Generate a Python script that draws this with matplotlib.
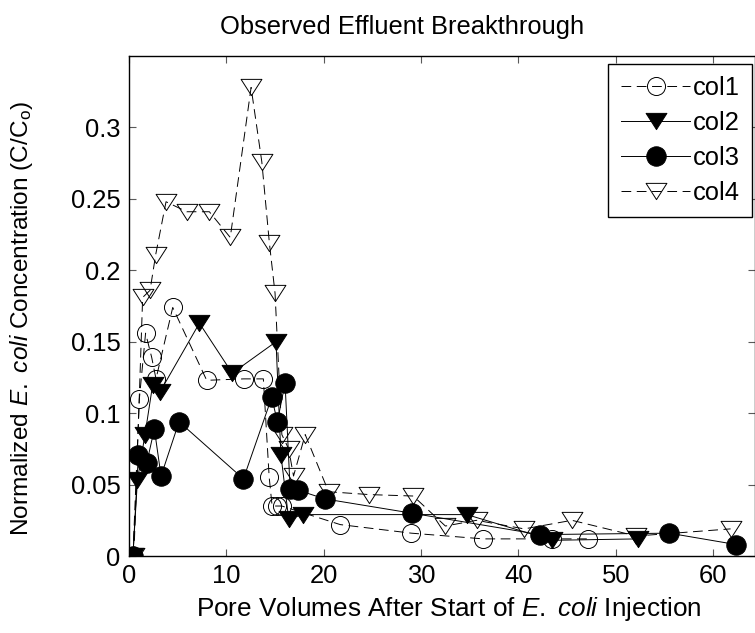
import matplotlib
matplotlib.use("Agg")
import matplotlib.pyplot as plt
import numpy as np
from matplotlib.path import Path

plt.rcParams["font.family"] = ["Liberation Sans", "DejaVu Sans"]
plt.rcParams["mathtext.fontset"] = "custom"
plt.rcParams["mathtext.rm"] = "Liberation Sans"
plt.rcParams["mathtext.it"] = "Liberation Sans:italic"
plt.rcParams["lines.scale_dashes"] = False

# pore volumes / normalized concentration for each column
col1_x = [0.4, 1.06, 1.7, 2.33, 2.77, 4.49, 7.98, 11.8, 13.8, 14.4, 14.7, 15.2, 15.7, 21.7, 29.0, 36.4, 43.5, 47.2]
col1_y = [0.0, 0.110, 0.156, 0.139, 0.124, 0.174, 0.123, 0.124, 0.124, 0.055, 0.035, 0.035, 0.035, 0.022, 0.016, 0.012, 0.012, 0.012]

col2_x = [0.4, 0.86, 1.64, 2.43, 3.19, 7.23, 10.6, 15.1, 15.6, 16.4, 17.9, 34.7, 43.5, 52.3]
col2_y = [0.0, 0.053, 0.085, 0.120, 0.115, 0.163, 0.128, 0.150, 0.071, 0.026, 0.029, 0.029, 0.011, 0.012]

col3_x = [0.4, 0.96, 1.82, 2.6, 3.29, 5.14, 11.75, 14.66, 15.24, 16.03, 16.55, 17.4, 20.1, 29.05, 42.2, 55.5, 62.4]
col3_y = [0.0, 0.071, 0.065, 0.089, 0.056, 0.094, 0.054, 0.111, 0.094, 0.121, 0.047, 0.046, 0.040, 0.030, 0.015, 0.016, 0.008]

col4_x = [0.5, 1.4, 2.16, 2.74, 3.8, 5.93, 8.25, 10.4, 12.54, 13.64, 14.42, 15.0, 15.7, 16.4, 16.9, 18.1, 20.5,
          24.7, 29.2, 32.5, 35.7, 40.6, 45.5, 52.1, 61.8]
col4_y = [0.0, 0.181, 0.186, 0.211, 0.248, 0.241, 0.241, 0.223, 0.328, 0.276, 0.219, 0.184, 0.085, 0.075, 0.056,
          0.085, 0.045, 0.043, 0.042, 0.021, 0.025, 0.019, 0.025, 0.014, 0.019]

labels = ["col1", "col2", "col3", "col4"]

# flattened down-pointing triangle
tri = Path([(-1.0, 0.78), (1.0, 0.78), (0.0, -0.78), (-1.0, 0.78)],
           [Path.MOVETO, Path.LINETO, Path.LINETO, Path.CLOSEPOLY])

fig = plt.figure(figsize=(7.55, 6.33), dpi=100)
ax = fig.add_axes([0.1709, 0.1216, 0.829, 0.7899])

dash = (0, (7, 4))
ax.plot(col1_x, col1_y, color="k", lw=0.7, ls=dash, marker="o", ms=13,
        mfc="none", mec="k", mew=0.7, label=labels[0])
ax.plot(col2_x, col2_y, color="k", lw=0.7, ls="-", marker=tri, ms=15,
        mfc="k", mec="k", mew=0.7, label=labels[1])
ax.plot(col3_x, col3_y, color="k", lw=0.7, ls="-", marker="o", ms=14,
        mfc="k", mec="k", mew=0.7, label=labels[2])
ax.plot(col4_x, col4_y, color="k", lw=0.7, ls=dash, marker=tri, ms=15,
        mfc="none", mec="k", mew=0.7, label=labels[3])

ax.set_xlim(0, 64.3)
ax.set_ylim(0, 0.35)
ax.set_xticks([0, 10, 20, 30, 40, 50, 60])
ax.set_yticks([0, 0.05, 0.1, 0.15, 0.2, 0.25, 0.3])
ax.set_yticklabels(["0", "0.05", "0.1", "0.15", "0.2", "0.25", "0.3"])
ax.tick_params(direction="in", length=5, width=0.8, color="0.35",
               top=True, right=True, labelsize=18.4, pad=6)
for s in ax.spines.values():
    s.set_linewidth(1.0)

ax.legend(loc="upper right", bbox_to_anchor=(1.0, 0.99), fontsize=18.4,
          numpoints=1, handlelength=2.7, handletextpad=0.1, labelspacing=0.42,
          borderpad=0.5, borderaxespad=0.1, fancybox=False, framealpha=1,
          edgecolor="k")

fig.text(0.532, 0.957, "Observed Effluent Breakthrough", fontsize=18.4,
         ha="center", va="center")
fig.text(0.594, 0.038, r"Pore Volumes After Start of $\mathit{E.\ coli}$ Injection",
         fontsize=18.8, ha="center", va="center")
fig.text(0.028, 0.497, r"Normalized $\mathit{E.\ coli}$ Concentration (C/C$_{\mathrm{o}}$)",
         fontsize=17.6, ha="center", va="center", rotation=90)

fig.savefig("out.png", dpi=100)
